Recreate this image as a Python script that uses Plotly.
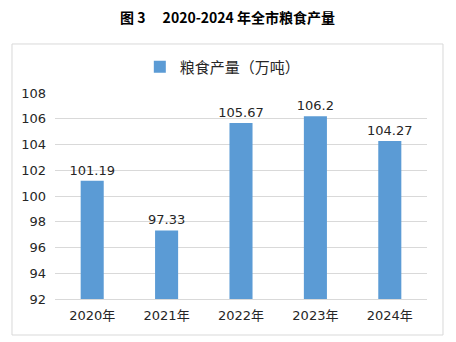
import plotly.graph_objects as go

years = ["2020年", "2021年", "2022年", "2023年", "2024年"]
grain_output = [101.19, 97.33, 105.67, 106.2, 104.27]
y_ticks = [92, 94, 96, 98, 100, 102, 104, 106, 108]

FONT = "DejaVu Sans, Noto Sans CJK SC, sans-serif"
CJK = "Noto Sans CJK SC, sans-serif"

fig = go.Figure(
    go.Bar(
        x=years,
        y=grain_output,
        name="粮食产量（万吨）",
        marker=dict(color="#5B9BD5", line=dict(width=0)),
        text=[str(v) for v in grain_output],
        textposition="outside",
        constraintext="none",
        textfont=dict(size=13, color="#262626", family=FONT),
        cliponaxis=False,
        width=0.31,
    )
)

fig.update_layout(
    width=456,
    height=342,
    margin=dict(l=55, r=29, t=93, b=43),
    paper_bgcolor="white",
    plot_bgcolor="white",
    font=dict(family=FONT, size=13, color="#262626"),
    showlegend=True,
    legend=dict(
        orientation="h",
        x=0.228,
        xanchor="left",
        y=1.126,
        yanchor="middle",
        font=dict(size=15, color="#262626", family=CJK),
        itemwidth=30,
    ),
    xaxis=dict(
        showgrid=False,
        showline=True,
        linecolor="#D9D9D9",
        linewidth=1,
        ticks="",
        tickfont=dict(size=13, family=FONT),
        ticklabelstandoff=4,
    ),
    yaxis=dict(
        range=[92, 108],
        tickvals=y_ticks,
        showgrid=True,
        gridcolor="#D9D9D9",
        gridwidth=1,
        zeroline=False,
        ticks="",
        tickfont=dict(size=13, family=FONT),
        ticklabelstandoff=8,
    ),
    shapes=[
        dict(
            type="rect",
            xref="paper",
            yref="paper",
            x0=-0.1156,
            x1=1.043,
            y0=-0.1748,
            y1=1.238,
            line=dict(color="#D9D9D9", width=1),
            fillcolor="rgba(0,0,0,0)",
            layer="below",
        )
    ],
    annotations=[
        dict(
            text="<b>图 3　 2020-2024 年全市粮食产量</b>",
            xref="paper",
            yref="paper",
            x=0.465,
            y=1.369,
            xanchor="center",
            yanchor="middle",
            showarrow=False,
            font=dict(size=14, color="#000000", family=CJK),
        )
    ],
)

fig.write_html("out.html")
